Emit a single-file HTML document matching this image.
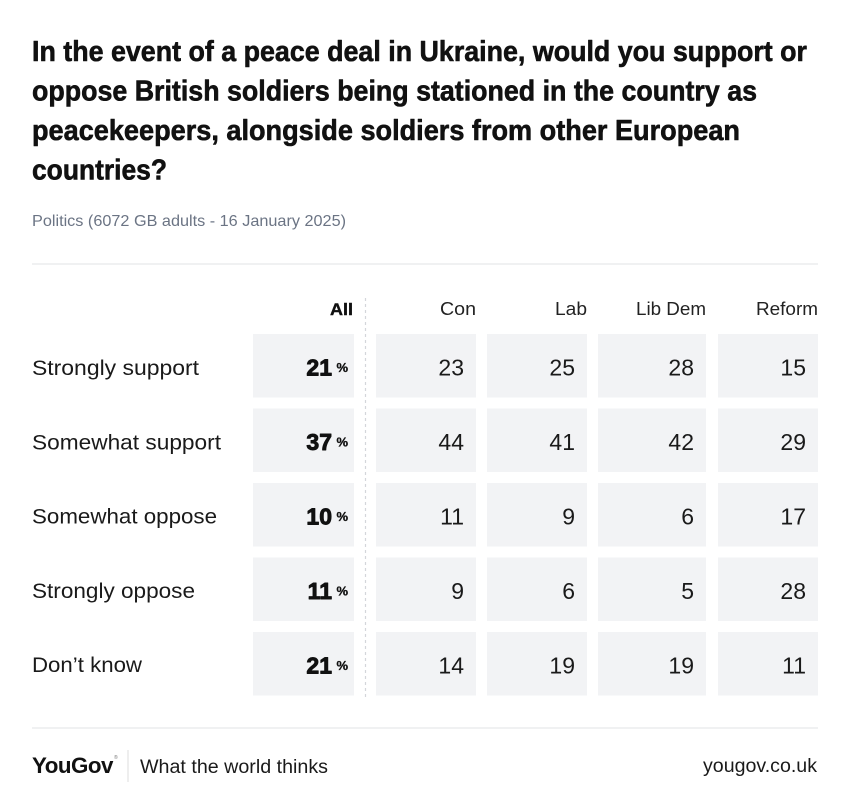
<!DOCTYPE html>
<html>
<head>
<meta charset="utf-8">
<style>
  html,body{margin:0;padding:0;background:#fff;}
  svg{display:block;}
  text{font-family:"Liberation Sans", Arial, sans-serif;}
</style>
</head>
<body>
<svg width="850" height="812" viewBox="0 0 850 812" xmlns="http://www.w3.org/2000/svg">
  <rect x="0" y="0" width="850" height="812" fill="#ffffff"/>

  <!-- Title -->
  <g font-weight="bold" font-size="29" fill="#111111" stroke="#111111" stroke-width="0.6" stroke-linejoin="round">
    <text x="32" y="61" textLength="775" lengthAdjust="spacingAndGlyphs">In the event of a peace deal in Ukraine, would you support or</text>
    <text x="32" y="100.5" textLength="725" lengthAdjust="spacingAndGlyphs">oppose British soldiers being stationed in the country as</text>
    <text x="32" y="140" textLength="708" lengthAdjust="spacingAndGlyphs">peacekeepers, alongside soldiers from other European</text>
    <text x="32" y="179.5" textLength="135" lengthAdjust="spacingAndGlyphs">countries?</text>
  </g>

  <!-- Subtitle -->
  <text x="32" y="226" font-size="16" fill="#6b7484" textLength="314" lengthAdjust="spacingAndGlyphs">Politics (6072 GB adults - 16 January 2025)</text>

  <!-- Top separator -->
  <rect x="32" y="263.5" width="786" height="1" fill="#e2e3e5"/>

  <!-- Column headers -->
  <text x="353" y="315" font-size="17" font-weight="bold" fill="#111" stroke="#111" stroke-width="0.4" text-anchor="end" textLength="23" lengthAdjust="spacingAndGlyphs">All</text>
  <g font-size="18" fill="#222">
    <text x="476" y="315" text-anchor="end" textLength="36" lengthAdjust="spacingAndGlyphs">Con</text>
    <text x="587" y="315" text-anchor="end" textLength="32" lengthAdjust="spacingAndGlyphs">Lab</text>
    <text x="706" y="315" text-anchor="end" textLength="70" lengthAdjust="spacingAndGlyphs">Lib Dem</text>
    <text x="818" y="315" text-anchor="end" textLength="62" lengthAdjust="spacingAndGlyphs">Reform</text>
  </g>

  <!-- Dashed divider -->
  <line x1="365.5" y1="298" x2="365.5" y2="697" stroke="#d4d6da" stroke-width="1.2" stroke-dasharray="3,3"/>

  <!-- Cells -->
  <g fill="#f2f3f5">
    <rect x="253" y="334" width="101" height="63.5"/>
    <rect x="376" y="334" width="100" height="63.5"/>
    <rect x="487" y="334" width="100" height="63.5"/>
    <rect x="598" y="334" width="108" height="63.5"/>
    <rect x="718" y="334" width="100" height="63.5"/>
    <rect x="253" y="408.5" width="101" height="63.5"/>
    <rect x="376" y="408.5" width="100" height="63.5"/>
    <rect x="487" y="408.5" width="100" height="63.5"/>
    <rect x="598" y="408.5" width="108" height="63.5"/>
    <rect x="718" y="408.5" width="100" height="63.5"/>
    <rect x="253" y="483" width="101" height="63.5"/>
    <rect x="376" y="483" width="100" height="63.5"/>
    <rect x="487" y="483" width="100" height="63.5"/>
    <rect x="598" y="483" width="108" height="63.5"/>
    <rect x="718" y="483" width="100" height="63.5"/>
    <rect x="253" y="557.5" width="101" height="63.5"/>
    <rect x="376" y="557.5" width="100" height="63.5"/>
    <rect x="487" y="557.5" width="100" height="63.5"/>
    <rect x="598" y="557.5" width="108" height="63.5"/>
    <rect x="718" y="557.5" width="100" height="63.5"/>
    <rect x="253" y="632" width="101" height="63.5"/>
    <rect x="376" y="632" width="100" height="63.5"/>
    <rect x="487" y="632" width="100" height="63.5"/>
    <rect x="598" y="632" width="108" height="63.5"/>
    <rect x="718" y="632" width="100" height="63.5"/>
  </g>

  <!-- Row labels -->
  <g font-size="21" fill="#1a1a1a">
    <text x="32" y="375" textLength="167" lengthAdjust="spacingAndGlyphs">Strongly support</text>
    <text x="32" y="449.5" textLength="189" lengthAdjust="spacingAndGlyphs">Somewhat support</text>
    <text x="32" y="523.5" textLength="185" lengthAdjust="spacingAndGlyphs">Somewhat oppose</text>
    <text x="32" y="598" textLength="163" lengthAdjust="spacingAndGlyphs">Strongly oppose</text>
    <text x="32" y="672" textLength="110" lengthAdjust="spacingAndGlyphs">Don’t know</text>
  </g>

  <!-- All column (bold) -->
  <g font-weight="bold" font-size="23" fill="#111" stroke="#111" stroke-width="0.9" stroke-linejoin="round" text-anchor="end">
    <text x="332" y="375.5">21</text>
    <text x="332" y="450">37</text>
    <text x="332" y="524.5">10</text>
    <text x="332" y="599">11</text>
    <text x="332" y="673.5">21</text>
  </g>
  <g font-weight="bold" font-size="13" fill="#111" stroke="#111" stroke-width="0.3" text-anchor="end">
    <text x="348" y="372">%</text>
    <text x="348" y="446.5">%</text>
    <text x="348" y="521">%</text>
    <text x="348" y="595.5">%</text>
    <text x="348" y="670">%</text>
  </g>

  <!-- Party values -->
  <g font-size="23" fill="#1a1a1a" text-anchor="end">
    <text x="464" y="375.5">23</text>
    <text x="464" y="450">44</text>
    <text x="464" y="524.5">11</text>
    <text x="464" y="599">9</text>
    <text x="464" y="673.5">14</text>
    <text x="575" y="375.5">25</text>
    <text x="575" y="450">41</text>
    <text x="575" y="524.5">9</text>
    <text x="575" y="599">6</text>
    <text x="575" y="673.5">19</text>
    <text x="694" y="375.5">28</text>
    <text x="694" y="450">42</text>
    <text x="694" y="524.5">6</text>
    <text x="694" y="599">5</text>
    <text x="694" y="673.5">19</text>
    <text x="806" y="375.5">15</text>
    <text x="806" y="450">29</text>
    <text x="806" y="524.5">17</text>
    <text x="806" y="599">28</text>
    <text x="806" y="673.5">11</text>
  </g>

  <!-- Footer separator -->
  <rect x="32" y="727.5" width="786" height="1" fill="#e2e3e5"/>

  <!-- Footer -->
  <text x="32" y="773" font-size="22" font-weight="bold" fill="#111" textLength="81" lengthAdjust="spacingAndGlyphs" letter-spacing="-0.5">YouGov</text>
  <text x="114" y="759" font-size="5" fill="#777">®</text>
  <rect x="127.5" y="750" width="1" height="32" fill="#dcdcdc"/>
  <text x="140" y="773" font-size="19" fill="#1a1a1a" textLength="188" lengthAdjust="spacingAndGlyphs">What the world thinks</text>
  <text x="817" y="772" font-size="19" fill="#1a1a1a" text-anchor="end" textLength="114" lengthAdjust="spacingAndGlyphs">yougov.co.uk</text>
</svg>
</body>
</html>
